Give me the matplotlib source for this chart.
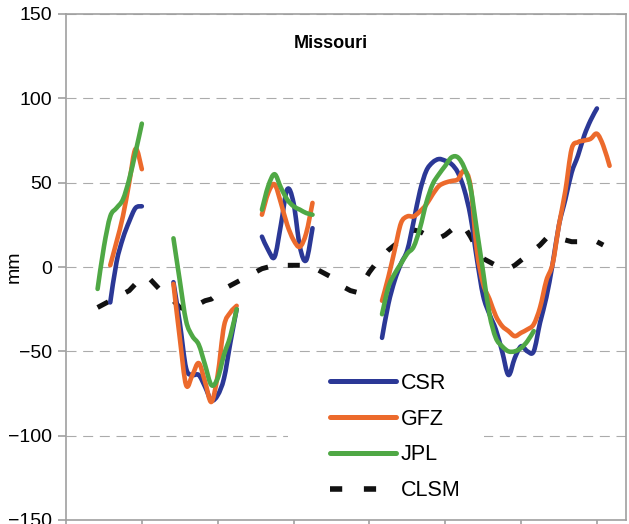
import numpy as np
import matplotlib
matplotlib.use("Agg")
import matplotlib.pyplot as plt
from matplotlib.path import Path
from matplotlib.patches import PathPatch, Rectangle
from matplotlib.lines import Line2D

plt.rcParams['font.family'] = ['Liberation Sans', 'DejaVu Sans']

# x = month index from the left edge of the axis (ticks every 12 months)
# each GRACE series: {first month of a run: monthly values in mm}
csr = {
    7: [-21, 3, 17, 27, 35, 36],
    17: [-9, -33, -60, -64, -64, -71, -79, -76, -66, -45, -25],
    31: [18, 10, 6, 25, 46, 38, 12, 4, 23],
    50: [-42, -22, -8, 2, 10, 27, 45, 57, 62, 64, 63, 61, 56, 46, 30, 5, -17, -28,
         -37, -50, -64, -54, -47, -50, -50, -33, -18, 2, 25, 40, 56, 66, 78, 87, 94],
}
gfz = {
    7: [1, 15, 30, 50, 70, 58],
    17: [-10, -42, -70, -64, -57, -68, -80, -64, -35, -27, -23],
    31: [31, 44, 49, 38, 25, 16, 12, 20, 38],
    50: [-20, -6, 10, 26, 30, 30, 33, 37, 43, 48, 50, 51, 52, 57, 48, 10, -10, -19,
         -29, -35, -38, -41, -39, -37, -34, -24, -8, 2, 25, 45, 70, 74, 75, 76, 79, 72, 60],
}
jpl = {
    5: [-13, 12, 30, 35, 40, 52, 68, 85],
    17: [17, -8, -32, -41, -46, -58, -70, -66, -52, -41, -25],
    31: [34, 48, 55, 47, 40, 36, 34, 32, 31],
    50: [-28, -12, -4, 2, 8, 12, 23, 38, 49, 55, 60, 65, 65, 59, 47, 22, -3, -28,
         -42, -47, -50, -50, -48, -44, -38],
}
clsm_start = 5
clsm = [-24, -22, -20, -18, -16, -14, -10, -6, -6, -10, -14, -17, -20, -24, -25, -24,
        -22, -20, -19, -16, -13, -11, -9, -7, -5, -3, -1, 0, 0, 1, 1, 1, 1, 1, 0, -2,
        -4, -6, -9, -12, -14, -15, -9, -3, 2, 6, 10, 13, 16, 20, 22, 21, 19, 17, 17, 19,
        22, 25, 24, 18, 11, 5, 3, 1, 0, -1, 1, 4, 7, 10, 13, 17, 18, 17, 16, 15, 15, 15,
        15, 15, 13]

names = ['CSR', 'GFZ', 'JPL', 'CLSM']
colors = ['#2B3896', '#EC6A2C', '#4FA845', '#111111']


def smooth_run(ax, start, vals, color):
    # excel-like smoothed line through the monthly points
    p = np.column_stack([np.arange(start, start + len(vals)), vals]).astype(float)
    ext = np.vstack([p[0], p, p[-1]])
    verts, codes = [p[0]], [Path.MOVETO]
    for i in range(len(p) - 1):
        c1 = ext[i + 1] + (ext[i + 2] - ext[i]) / 6
        c2 = ext[i + 2] - (ext[i + 3] - ext[i + 1]) / 6
        verts += [c1, c2, p[i + 1]]
        codes += [Path.CURVE4] * 3
    ax.add_patch(PathPatch(Path(verts, codes), fill=False, ec=color, lw=3.3,
                           capstyle='round', joinstyle='round', zorder=3))


fig = plt.figure(figsize=(6.29, 5.24), dpi=100)
ax = fig.add_axes([66 / 629, 4 / 524, 560 / 629, 506 / 524])

# clsm dashed line
cx = np.arange(clsm_start, clsm_start + len(clsm))
ax.plot(cx, clsm, color=colors[3], lw=3.6, dashes=(2.4, 4.0),
        dash_capstyle='butt', zorder=2)

for series, c in zip([csr, gfz, jpl], colors[:3]):
    for start, vals in series.items():
        smooth_run(ax, start, vals, c)

ax.set_xlim(0, 88.6)
ax.set_ylim(-150, 150)
ax.set_yticks(np.arange(-150, 151, 50))
ax.set_xticks(np.arange(0, 85, 12))
ax.set_xticklabels([])
ax.set_axisbelow(True)
ax.yaxis.grid(True, color='#ababab', lw=0.8, linestyle=(0, (9, 6)))
for s in ax.spines.values():
    s.set_color('#a0a0a0')
    s.set_linewidth(1.2)
ax.tick_params(axis='both', direction='out', length=6, width=1.2, color='#a0a0a0',
               labelsize=14, pad=4)

ax.set_ylabel('mm', fontsize=14)
ax.yaxis.set_label_coords(-0.077, 0.5)

ax.text(0.473, 0.942, 'Missouri', transform=ax.transAxes, ha='center', va='center',
        fontsize=13, fontweight='bold')

# white box behind the legend (hides the grid line)
ax.add_patch(Rectangle((0.396, 0.02), 0.35, 0.29, transform=ax.transAxes,
                       fc='white', ec='none', zorder=1))

handles = [Line2D([], [], color=colors[i], lw=3.6, solid_capstyle='round') for i in range(3)]
handles.append(Line2D([], [], color=colors[3], lw=4, dashes=(2.2, 3.9), dash_capstyle='butt'))
ax.legend(handles, names, loc='center left', bbox_to_anchor=(0.471, 0.164),
          frameon=False, fontsize=15.5, handlelength=3.07, handletextpad=0.23,
          labelspacing=0.69, borderpad=0, borderaxespad=0)

fig.savefig('out.png', dpi=100)
